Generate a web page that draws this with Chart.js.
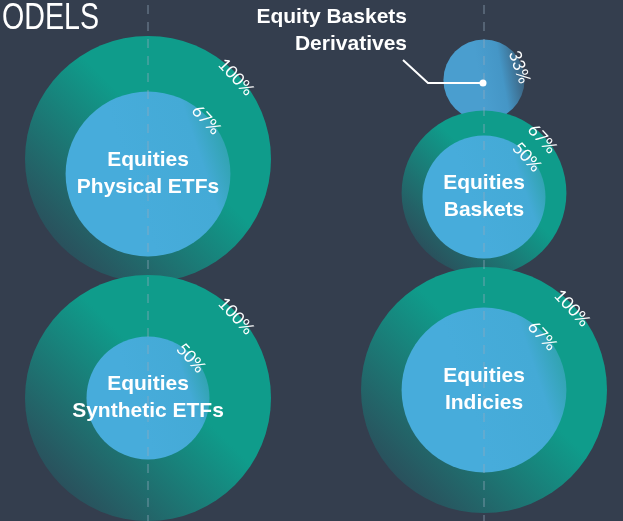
<!DOCTYPE html>
<html>
<head>
<meta charset="utf-8">
<script src="https://cdn.jsdelivr.net/npm/chart.js@4.4.1/dist/chart.umd.min.js"></script>
<style>
  html, body { margin: 0; padding: 0; background: #343e4e; }
  #wrap { width: 623px; height: 521px; position: relative; }
</style>
</head>
<body>
<div id="wrap"><canvas id="chart"></canvas></div>
<script>
// one entry per product, each column read top to bottom
const products = ['Equities\nPhysical ETFs', 'Equities\nSynthetic ETFs', 'Equity Baskets\nDerivatives', 'Equities\nBaskets', 'Equities\nIndicies'];
const column = [0, 0, 1, 1, 1];
const outerRow = [159, 398, 80, 193, 390];
const innerRow = [174, 398, null, 197, 390];
const outerPct = [100, 100, 33, 67, 100];
const innerPct = [67, 50, null, 50, 67];

const PX_PER_PCT = 1.23;

const outerData = products.map((p, i) => ({ x: column[i], y: outerRow[i], r: outerPct[i] * PX_PER_PCT, i: i, pct: outerPct[i] }));
const innerData = products.map((p, i) => ({ x: column[i], y: innerRow[i], r: (innerPct[i] || 0) * PX_PER_PCT, i: i, pct: innerPct[i] }))
    .filter(d => d.pct !== null);

function centre(chart, raw) {
    return {
        x: chart.scales.x.getPixelForValue(raw.x),
        y: chart.scales.y.getPixelForValue(raw.y)
    };
}

function outerFill(ctx) {
    const chart = ctx.chart;
    if (!chart.chartArea || !ctx.raw) return '#0f9c8b';
    const c = centre(chart, ctx.raw), r = ctx.raw.r;
    if (ctx.raw.i === 2) {
        // the small derivatives bubble is blue, shaded on its right side
        const g = chart.ctx.createLinearGradient(c.x - r * 0.1, c.y, c.x + r, c.y - r * 0.2);
        g.addColorStop(0, '#4a9ecf');
        g.addColorStop(0.5, '#4596c6');
        g.addColorStop(1, '#3a5d78');
        return g;
    }
    const g = chart.ctx.createLinearGradient(c.x - r * 0.75, c.y + r * 0.75, c.x + r * 0.15, c.y - r * 0.15);
    g.addColorStop(0, '#2b4d5a');
    g.addColorStop(1, '#0f9c8b');
    return g;
}

function innerFill(ctx) {
    const chart = ctx.chart;
    if (!chart.chartArea || !ctx.raw) return '#47acdb';
    const c = centre(chart, ctx.raw), r = ctx.raw.r;
    const g = chart.ctx.createLinearGradient(c.x - r * 0.2, c.y + r * 0.1, c.x + r, c.y - r * 0.3);
    g.addColorStop(0, '#47acdb');
    g.addColorStop(0.7, '#44aad6');
    g.addColorStop(1, '#2fa3ad');
    return g;
}

const labelPlugin = {
    id: 'labels',
    afterDraw(chart) {
        const c = chart.ctx;
        c.save();
        c.fillStyle = '#ffffff';

        // page heading, its first letter cut off at the left edge
        c.save();
        c.beginPath();
        c.rect(2, 0, 200, 60);
        c.clip();
        c.font = '36px "Liberation Sans"';
        c.textAlign = 'left';
        c.textBaseline = 'alphabetic';
        const sx = 97 / c.measureText('ODELS').width;
        const mw = c.measureText('M').width;
        c.scale(sx, 1);
        c.fillText('MODELS', 2 / sx - mw, 29);
        c.restore();

        // percentages written along the rim of each circle
        c.font = '17px Lato';
        c.textAlign = 'center';
        c.textBaseline = 'middle';
        [outerData, innerData].forEach(set => set.forEach(d => {
            const p = centre(chart, d);
            const ang = (d.r < 50 ? 20 : 43) * Math.PI / 180;
            const dist = d.r - 3;
            c.save();
            c.translate(p.x + dist * Math.cos(ang), p.y - dist * Math.sin(ang));
            c.rotate(Math.PI / 2 - ang);
            c.fillText(d.pct + '%', 0, 0);
            c.restore();
        }));

        // product names inside the inner circles
        c.font = 'bold 21px "Liberation Sans"';
        innerData.forEach(d => {
            const p = centre(chart, d);
            const lines = products[d.i].split('\n');
            lines.forEach((t, k) => c.fillText(t, p.x, p.y + (k - (lines.length - 1) / 2) * 27));
        });

        // callout for the small bubble
        const s = centre(chart, outerData[2]);
        const dot = { x: s.x - 1, y: s.y + 3 };
        c.strokeStyle = '#ffffff';
        c.lineWidth = 2;
        c.beginPath();
        c.moveTo(dot.x, dot.y);
        c.lineTo(dot.x - 55, dot.y);
        c.lineTo(dot.x - 80, dot.y - 23);
        c.stroke();
        c.beginPath();
        c.arc(dot.x, dot.y, 3.5, 0, Math.PI * 2);
        c.fill();
        c.textAlign = 'right';
        c.textBaseline = 'alphabetic';
        const callout = products[2].split('\n');
        callout.forEach((t, k) => c.fillText(t, dot.x - 76, dot.y - 60 + k * 27));
        c.restore();
    }
};

new Chart(document.getElementById('chart'), {
    type: 'bubble',
    data: {
        datasets: [
            { label: 'inner', data: innerData, backgroundColor: innerFill, borderWidth: 0, clip: false },
            { label: 'outer', data: outerData, backgroundColor: outerFill, borderWidth: 0, clip: false }
        ]
    },
    options: {
        responsive: true,
        maintainAspectRatio: false,
        animation: false,
        events: [],
        layout: { padding: 0, autoPadding: false },
        plugins: {
            legend: { display: false },
            tooltip: { enabled: false }
        },
        scales: {
            x: {
                type: 'linear',
                min: -0.4405,
                max: 1.4137,
                afterBuildTicks: s => { s.ticks = [{ value: 0 }, { value: 1 }]; },
                ticks: { display: false },
                grid: { color: 'rgba(150,170,190,0.35)', lineWidth: 2, drawTicks: false, z: 1 },
                border: { display: false, dash: [9, 8], dashOffset: 12 }
            },
            y: {
                type: 'linear',
                min: 0,
                max: 521,
                reverse: true,
                display: false
            }
        }
    },
    plugins: [labelPlugin]
});
</script>
</body>
</html>
